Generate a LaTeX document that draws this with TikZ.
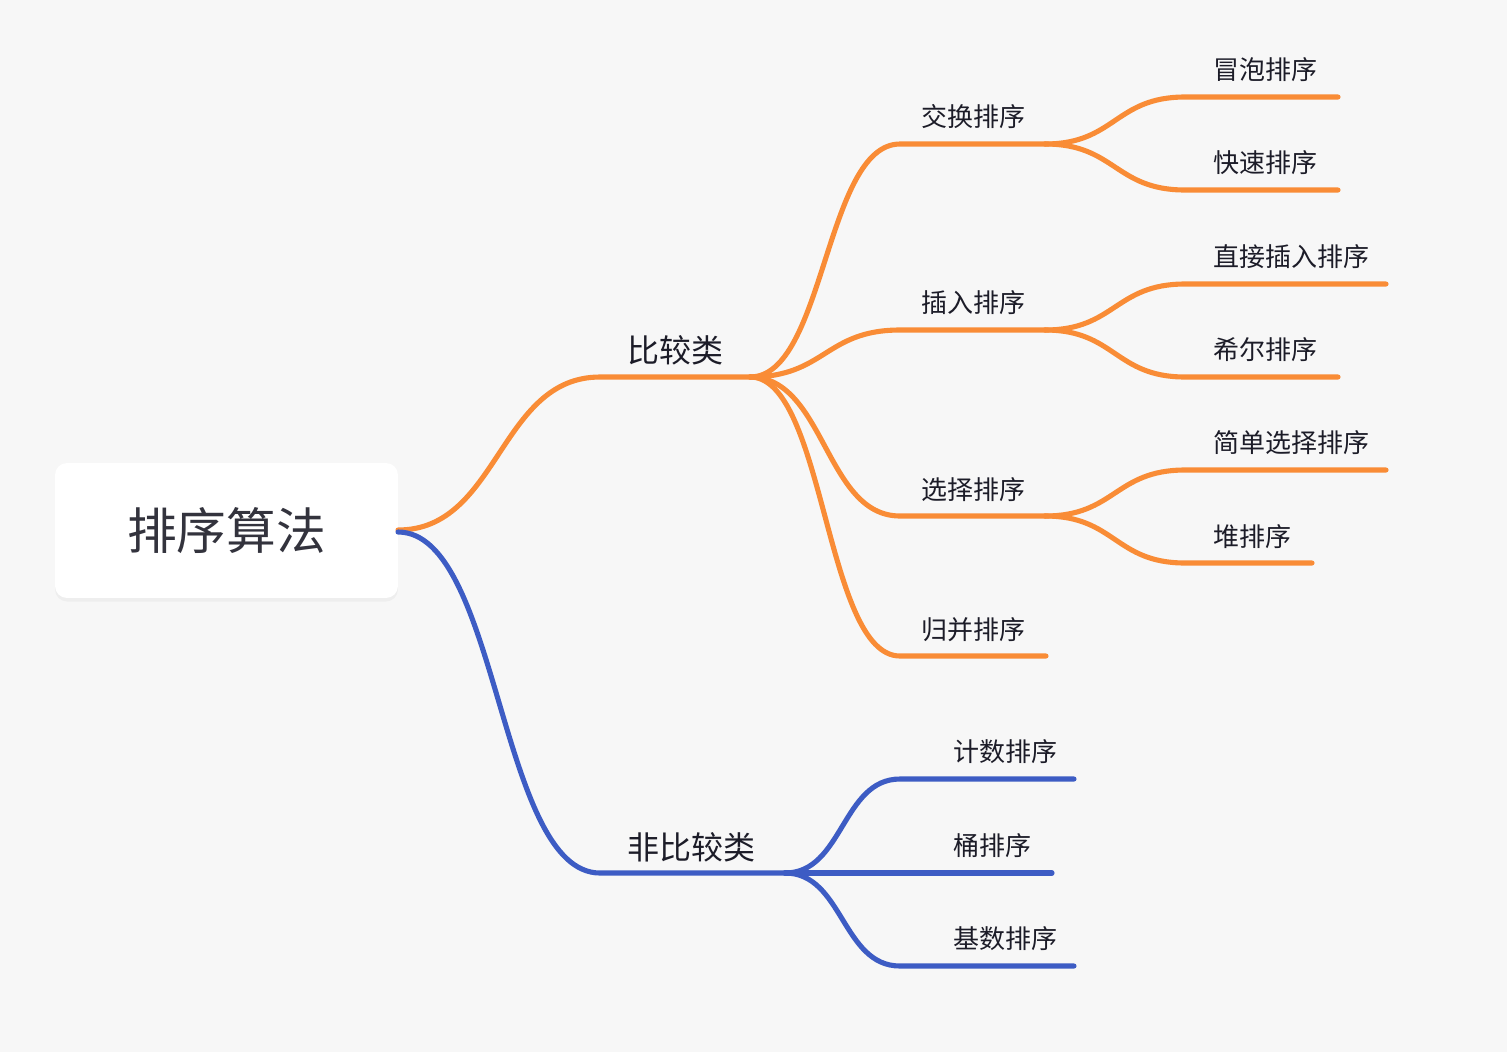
\documentclass[tikz,border=0pt]{standalone}
\usepackage{fontspec}
\setmainfont{Noto Sans CJK SC}
\usepackage{xcolor}
\usetikzlibrary{shadows}
\definecolor{bgcol}{HTML}{F7F7F7}
\definecolor{orangeline}{HTML}{F98C36}
\definecolor{blueline}{HTML}{3D5CC4}
\definecolor{ink}{HTML}{1C1C28}

\begin{document}
\begin{tikzpicture}[x=0.02cm, y=-0.02cm,
                    rootbox/.style={draw=none, fill=white, rounded corners=0.24cm,
                      minimum width=6.86cm, minimum height=2.7cm, text=ink!90,
                      font=\fontsize{28.3}{33}\selectfont,
                      drop shadow={shadow xshift=0pt, shadow yshift=-2pt, opacity=0.07}},
                    main/.style={anchor=west, inner sep=0pt, text=ink, font=\fontsize{18.2}{22}\selectfont},
                    sub/.style={anchor=west, inner sep=0pt, text=ink, font=\fontsize{14.8}{18}\selectfont},
                    oline/.style={draw=orangeline, line width=2.9pt, line cap=round},
                    bline/.style={draw=blueline, line width=2.9pt, line cap=round}]
  \fill[bgcol] (0,0) rectangle (1507,1052);
  \useasboundingbox (0,0) rectangle (1507,1052);

  % root
  \node[rootbox] (root) at (226.5,530.5) {\raisebox{-0.1em}{排序算法}};
  \coordinate (root-o) at (398,530);
  \coordinate (root-b) at (398,532);

  % main topics
  \node[main] (bijiao) at (627,350) {比较类};
  \node[main] (feibijiao) at (627,847) {非比较类};
  \coordinate (bijiao-a) at (600,377);
  \coordinate (bijiao-b) at (750,377);
  \coordinate (feibijiao-a) at (600,873);
  \coordinate (feibijiao-b) at (785,873);

  % orange subtopics
  \node[sub] (jiaohuan) at (921,117) {交换排序};
  \node[sub] (charu) at (921,303) {插入排序};
  \node[sub] (xuanze) at (921,490) {选择排序};
  \node[sub] (guibing) at (921,630) {归并排序};
  \coordinate (jiaohuan-a) at (900,144);
  \coordinate (jiaohuan-b) at (1045,144);
  \coordinate (charu-a) at (900,330);
  \coordinate (charu-b) at (1045,330);
  \coordinate (xuanze-a) at (900,516);
  \coordinate (xuanze-b) at (1045,516);
  \coordinate (guibing-a) at (900,656);
  \coordinate (guibing-b) at (1046,656);

  % leaves
  \node[sub] (maopao) at (1213,70) {冒泡排序};
  \node[sub] (kuaisu) at (1213,163) {快速排序};
  \node[sub] (zhijie) at (1213,257) {直接插入排序};
  \node[sub] (xier) at (1213,350) {希尔排序};
  \node[sub] (jiandan) at (1213,443) {简单选择排序};
  \node[sub] (dui) at (1213,537) {堆排序};
  \coordinate (maopao-a) at (1185,97);
  \coordinate (maopao-b) at (1338,97);
  \coordinate (kuaisu-a) at (1185,190);
  \coordinate (kuaisu-b) at (1338,190);
  \coordinate (zhijie-a) at (1185,284);
  \coordinate (zhijie-b) at (1386,284);
  \coordinate (xier-a) at (1185,377);
  \coordinate (xier-b) at (1338,377);
  \coordinate (jiandan-a) at (1185,470);
  \coordinate (jiandan-b) at (1386,470);
  \coordinate (dui-a) at (1185,563);
  \coordinate (dui-b) at (1312,563);

  % blue subtopics
  \node[sub] (jishu) at (953,752) {计数排序};
  \node[sub] (tong) at (953,846) {桶排序};
  \node[sub] (jishu2) at (953,939) {基数排序};
  \coordinate (jishu-a) at (900,779);
  \coordinate (jishu-b) at (1074,779);
  \coordinate (tong-a) at (900,873);
  \coordinate (tong-b) at (1052,873);
  \coordinate (jishu2-a) at (900,966);
  \coordinate (jishu2-b) at (1074,966);

  % orange branch
  \draw[oline] (root-o) .. controls +(101,0) and +(-101,0) .. (bijiao-a) -- (bijiao-b);
  \draw[oline] (bijiao-b) .. controls +(75,0) and +(-75,0) .. (jiaohuan-a) -- (jiaohuan-b);
  \draw[oline] (bijiao-b) .. controls +(75,0) and +(-75,0) .. (charu-a) -- (charu-b);
  \draw[oline] (bijiao-b) .. controls +(75,0) and +(-75,0) .. (xuanze-a) -- (xuanze-b);
  \draw[oline] (bijiao-b) .. controls +(75,0) and +(-75,0) .. (guibing-a) -- (guibing-b);
  \draw[oline] (jiaohuan-b) .. controls +(70,0) and +(-70,0) .. (maopao-a) -- (maopao-b);
  \draw[oline] (jiaohuan-b) .. controls +(70,0) and +(-70,0) .. (kuaisu-a) -- (kuaisu-b);
  \draw[oline] (charu-b) .. controls +(70,0) and +(-70,0) .. (zhijie-a) -- (zhijie-b);
  \draw[oline] (charu-b) .. controls +(70,0) and +(-70,0) .. (xier-a) -- (xier-b);
  \draw[oline] (xuanze-b) .. controls +(70,0) and +(-70,0) .. (jiandan-a) -- (jiandan-b);
  \draw[oline] (xuanze-b) .. controls +(70,0) and +(-70,0) .. (dui-a) -- (dui-b);

  % blue branch
  \draw[bline] (root-b) .. controls +(101,0) and +(-101,0) .. (feibijiao-a) -- (feibijiao-b);
  \draw[bline] (feibijiao-b) .. controls +(58,0) and +(-58,0) .. (jishu-a) -- (jishu-b);
  \draw[bline] (feibijiao-b) -- (tong-a) -- (tong-b);
  \draw[bline] (feibijiao-b) .. controls +(58,0) and +(-58,0) .. (jishu2-a) -- (jishu2-b);
\end{tikzpicture}
\end{document}
